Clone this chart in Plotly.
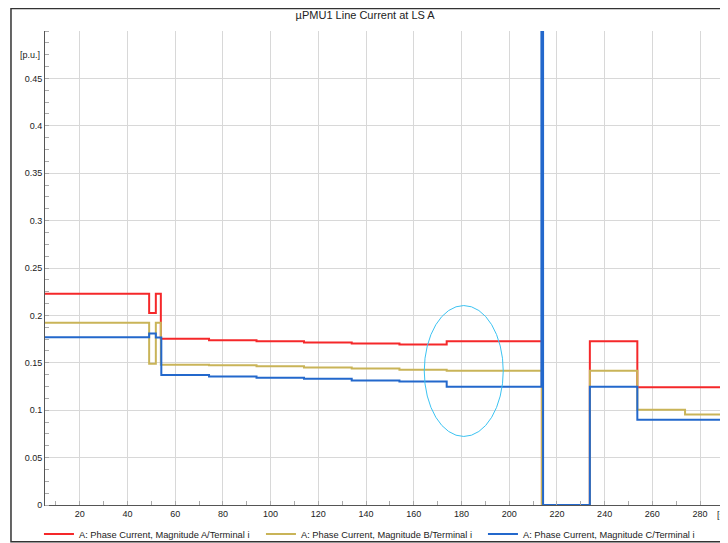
#### step chart of µPMU1 line current magnitudes at LS A

import plotly.graph_objects as go

# time breakpoints [s] and values [p.u.] after each breakpoint (step series)
t_a = [5.4, 49.1, 51.9, 54.0, 74.2, 94.1, 114.0, 134.0, 154.0, 173.8, 213.7, 233.8, 253.7, 292.0]
i_a = [0.2228, 0.2025, 0.2228, 0.1753, 0.1738, 0.1728, 0.1714, 0.1704, 0.1693, 0.1728, 0.0, 0.1728, 0.1243, 0.1243]

t_b = [5.4, 49.1, 51.9, 54.0, 74.2, 94.1, 114.0, 134.0, 154.0, 173.8, 213.7, 233.8, 253.7, 273.7, 292.0]
i_b = [0.1922, 0.1490, 0.1922, 0.1480, 0.1475, 0.1464, 0.1450, 0.1440, 0.1426, 0.1416, 0.0, 0.1416, 0.1004, 0.0955, 0.0955]

t_c = [5.4, 49.1, 51.9, 54.2, 74.2, 94.1, 114.0, 134.0, 154.0, 173.8, 213.5, 214.2, 233.8, 253.7, 292.0]
i_c = [0.1770, 0.1809, 0.1767, 0.1370, 0.1355, 0.1342, 0.1331, 0.1313, 0.1303, 0.1247, 1.0, 0.0, 0.1247, 0.0899, 0.0899]

names = ["A: Phase Current, Magnitude A/Terminal i",
         "A: Phase Current, Magnitude B/Terminal i",
         "A: Phase Current, Magnitude C/Terminal i"]
colors = ["#f5282a", "#c9b458", "#2368cc"]

y_ticks = [0, 0.05, 0.1, 0.15, 0.2, 0.25, 0.3, 0.35, 0.4, 0.45]
y_labels = ["0", "0.05", "0.1", "0.15", "0.2", "0.25", "0.3", "0.35", "0.4", "0.45"]
x_ticks = list(range(20, 281, 20))

# highlighted region (ellipse) in data units
ell_x = [164.4, 197.5]
ell_y = [0.0723, 0.2104]

font = "Liberation Sans, Arial, sans-serif"

fig = go.Figure()
for t, v, n, c in zip([t_a, t_b, t_c], [i_a, i_b, i_c], names, colors):
    fig.add_trace(go.Scatter(x=t, y=v, name=n, mode="lines",
                             line=dict(color=c, width=2, shape="hv")))

fig.add_shape(type="circle", xref="x", yref="y",
              x0=ell_x[0], x1=ell_x[1], y0=ell_y[0], y1=ell_y[1],
              line=dict(color="#3cc3f2", width=1))

# outer frame
fig.add_shape(type="rect", xref="paper", yref="paper",
              x0=-0.0498, x1=1.05, y0=-0.0774, y1=1.0475,
              line=dict(color="#333333", width=1.5), layer="below")

fig.add_annotation(text="[p.u.]", xref="paper", x=0, xanchor="right", xshift=-3,
                   yref="y", y=0.475, showarrow=False, font=dict(size=9, color="#222"))
fig.add_annotation(text="[s]", xref="x", x=289.3, yref="paper", y=-0.0215,
                   yanchor="middle", showarrow=False, font=dict(size=9, color="#222"))

# the page body has an 8px margin, so the figure is 8px smaller than the window
fig.update_layout(
    width=720, height=535,
    margin=dict(l=37, r=0, t=23, b=38, autoexpand=False),
    paper_bgcolor="white", plot_bgcolor="white",
    font=dict(family=font, size=9, color="#222"),
    title=dict(text="µPMU1 Line Current at LS A", xref="container", x=0.496, xanchor="center",
               yref="container", y=0.987, yanchor="middle", font=dict(size=11, color="#222")),
    showlegend=True,
    legend=dict(orientation="h", xref="container", x=0.043, xanchor="left",
                yref="container", y=0.0168, yanchor="middle",
                entrywidth=177, entrywidthmode="pixels",
                font=dict(size=9.3), bgcolor="rgba(0,0,0,0)", tracegroupgap=0),
    xaxis=dict(range=[5.45, 291.7], tickvals=x_ticks, showgrid=True, gridcolor="#d8d8d8",
               gridwidth=1, showline=True, linecolor="#555", linewidth=1, zeroline=False,
               ticks="", tickfont=dict(size=9), automargin=False,
               minor=dict(ticks="inside", tick0=0, dtick=10, ticklen=4, tickcolor="#aaa", showgrid=False)),
    yaxis=dict(range=[0, 0.5], tickvals=y_ticks, ticktext=y_labels, showgrid=True,
               gridcolor="#d8d8d8", gridwidth=1, showline=True, linecolor="#555", linewidth=1,
               zeroline=False, ticks="", tickfont=dict(size=9), automargin=False,
               minor=dict(ticks="inside", tick0=0, dtick=0.0125, ticklen=4, tickcolor="#aaa", showgrid=False)),
)

fig.write_html("out.html")
